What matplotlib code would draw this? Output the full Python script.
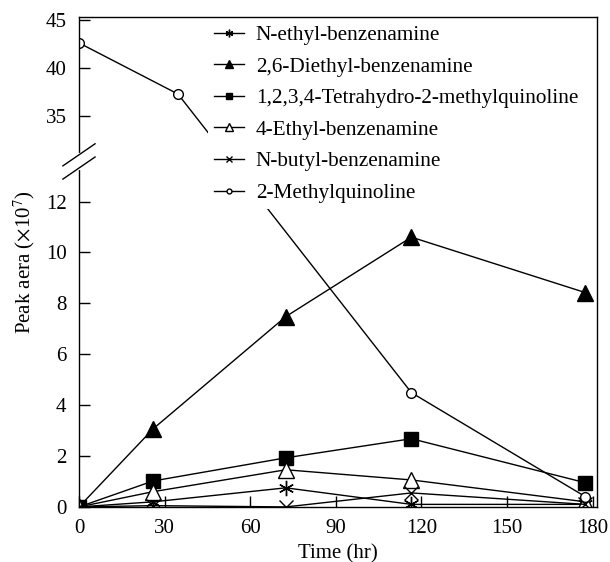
import numpy as np
import matplotlib
matplotlib.use("Agg")
import matplotlib.pyplot as plt
from matplotlib.scale import FuncScale

plt.rcParams['font.family'] = ['Liberation Serif', 'DejaVu Serif']
plt.rcParams['mathtext.fontset'] = 'stix'

# sampling times (hr)
time = [0, 26, 72.5, 116.5, 177.5]
time_mq = [0, 34.7, 116.5, 177.5]

# peak areas (x10^7)
n_ethyl = [0, 0.2, 0.75, 0.1, 0.1]
diethyl = [0, 3.07, 7.48, 10.6, 8.42]
tetrahydro = [0, 1.02, 1.93, 2.68, 0.95]
ethyl_4 = [0, 0.6, 1.46, 1.06, 0.2]
n_butyl = [0, 0.05, 0, 0.55, 0.1]
methylquinoline = [42.6, 37.3, 4.49, 0.4]

labels = ["N-ethyl-benzenamine", "2,6-Diethyl-benzenamine",
          "1,2,3,4-Tetrahydro-2-methylquinoline", "4-Ethyl-benzenamine",
          "N-butyl-benzenamine", "2-Methylquinoline"]

# broken y axis: 0-13.7 and 30.7-45.3 squeezed together
ys = [0, 13.7, 30.7, 45.3]
ps = [0, 13.7 * 25.5, 13.7 * 25.5 + 0.5, 13.7 * 25.5 + 0.5 + 14.6 * 9.67]


def fwd(y):
    return np.interp(y, ys, ps)


def inv(p):
    return np.interp(p, ps, ys)


fig = plt.figure(figsize=(6.1, 5.62), dpi=100)
ax = fig.add_axes([0.1295, 0.098, 0.849, 0.872])
ax.set_yscale(FuncScale(ax, (fwd, inv)))

kw = dict(color='black', lw=1.0)
ax.plot(time, n_ethyl, marker=(6, 2, 0), ms=11, mew=1.0, label=labels[0], **kw)
ax.plot(time, diethyl, marker='^', ms=11, mfc='black', label=labels[1], **kw)
ax.plot(time, tetrahydro, marker='s', ms=10, mfc='black', label=labels[2], **kw)
ax.plot(time, ethyl_4, marker='^', ms=11, mfc='white', mew=1.0, label=labels[3], **kw)
ax.plot(time, n_butyl, marker='x', ms=10, mew=1.0, label=labels[4], **kw)
ax.plot(time_mq, methylquinoline, marker='o', ms=7, mfc='white', mew=1.0,
        label=labels[5], **kw)

ax.set_xlim(0, 181.5)
ax.set_ylim(0, 45.3)
ax.set_xticks([0, 30, 60, 90, 120, 150, 180])
ax.set_yticks([0, 2, 4, 6, 8, 10, 12, 35, 40, 45])
ax.tick_params(direction='in', length=8, width=1, labelsize=15, pad=9)
for s in ax.spines.values():
    s.set_linewidth(1.0)

ax.set_xlabel("Time (hr)", fontsize=15, labelpad=4)
ax.set_ylabel(r"Peak aera ($\times$10$^{7}$)", fontsize=15, labelpad=6)

# break marks on the y axis
yb = 0.705
ax.plot([0, 0], [yb - 0.014, yb + 0.014], transform=ax.transAxes,
        color='white', lw=3, clip_on=False, zorder=5)
for off in (-0.0135, 0.0135):
    ax.plot([-0.031, 0.031], [yb + off - 0.0225, yb + off + 0.0225],
            transform=ax.transAxes, color='black', lw=1.0, clip_on=False, zorder=6)

leg = ax.legend(loc='upper left', bbox_to_anchor=(0.245, 1.0), fontsize=15.3,
                frameon=True, fancybox=False, edgecolor='none', facecolor='white',
                framealpha=1.0, borderaxespad=0.1, borderpad=0.3,
                handlelength=1.4, handletextpad=0.55, labelspacing=0.55,
                markerscale=0.5)
leg.set_zorder(10)

fig.savefig("out.png", dpi=100)
